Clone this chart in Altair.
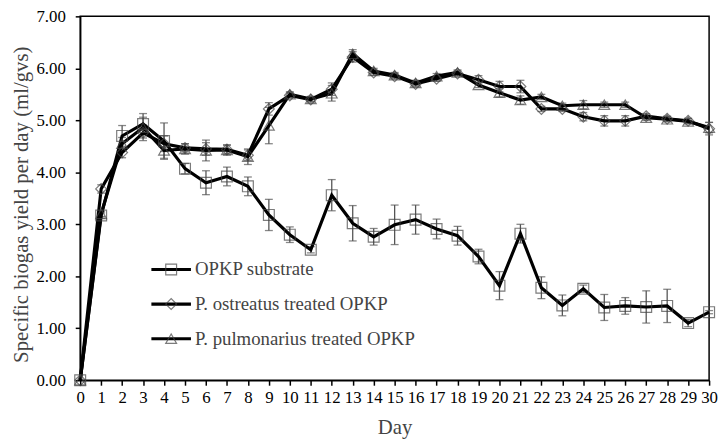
import altair as alt
import pandas as pd

days = list(range(31))
series_names = ["OPKP substrate", "P. ostreatus treated OPKP", "P. pulmonarius treated OPKP"]

opkp = [0.00, 3.17, 4.70, 4.93, 4.60, 4.07, 3.80, 3.92, 3.73, 3.18, 2.80, 2.51, 3.56, 3.02, 2.76, 2.99,
        3.09, 2.91, 2.78, 2.38, 1.82, 2.82, 1.78, 1.44, 1.76, 1.40, 1.43, 1.41, 1.43, 1.10, 1.31]
opkp_err = [0.00, 0.05, 0.20, 0.20, 0.35, 0.10, 0.23, 0.18, 0.18, 0.30, 0.15, 0.06, 0.30, 0.34, 0.16, 0.38,
            0.28, 0.19, 0.18, 0.14, 0.27, 0.18, 0.21, 0.20, 0.07, 0.25, 0.16, 0.31, 0.32, 0.07, 0.03]
ostreatus = [0.00, 3.68, 4.38, 4.76, 4.55, 4.47, 4.45, 4.44, 4.33, 5.22, 5.48, 5.40, 5.60, 6.22, 5.92, 5.85,
             5.70, 5.80, 5.90, 5.78, 5.65, 5.65, 5.22, 5.22, 5.07, 4.99, 4.99, 5.08, 5.03, 4.99, 4.84]
ostreatus_err = [0.00, 0.08, 0.10, 0.15, 0.15, 0.08, 0.12, 0.08, 0.10, 0.12, 0.05, 0.05, 0.12, 0.10, 0.05, 0.05,
                 0.05, 0.05, 0.05, 0.08, 0.10, 0.12, 0.05, 0.05, 0.08, 0.10, 0.10, 0.05, 0.05, 0.05, 0.12]
pulmonarius = [0.00, 3.20, 4.55, 4.86, 4.42, 4.45, 4.42, 4.43, 4.30, 4.90, 5.50, 5.41, 5.52, 6.28, 5.95, 5.87,
               5.72, 5.85, 5.92, 5.68, 5.53, 5.39, 5.45, 5.28, 5.30, 5.30, 5.30, 5.05, 5.02, 4.98, 4.86]
pulmonarius_err = [0.00, 0.05, 0.12, 0.20, 0.15, 0.10, 0.20, 0.10, 0.15, 0.35, 0.05, 0.05, 0.15, 0.08, 0.05, 0.05,
                   0.05, 0.05, 0.05, 0.05, 0.08, 0.08, 0.05, 0.05, 0.08, 0.05, 0.05, 0.05, 0.05, 0.05, 0.10]
y_ticks = [i * 0.5 for i in range(15)]

rows = []
for name, vals, errs in zip(series_names, [opkp, ostreatus, pulmonarius], [opkp_err, ostreatus_err, pulmonarius_err]):
    for d, v, e in zip(days, vals, errs):
        rows.append({"day": d, "value": v, "err": e, "lo": v - e, "hi": v + e, "series": name})
df = pd.DataFrame(rows)
df_err = df[df["err"] > 0]

FONT = "Liberation Serif"
x_enc = alt.X("day:Q", scale=alt.Scale(domain=[0, 30], nice=False, zero=False),
              axis=alt.Axis(values=days, format="d", title="Day", grid=False,
                            labelFont=FONT, labelFontSize=17, labelColor="black", labelPadding=4,
                            labelFlush=False, labelOverlap=False,
                            tickSize=5, tickColor="black", tickWidth=1.5,
                            domainColor="black", domainWidth=1.5,
                            titleFont=FONT, titleFontSize=21, titleFontWeight="normal",
                            titleColor="#444", titlePadding=12))
y_scale = alt.Scale(domain=[0, 7], nice=False)
y_enc = alt.Y("value:Q", scale=y_scale,
              axis=alt.Axis(values=y_ticks, format=".2f", title="Specific biogas yield per day (ml/gvs)",
                            grid=False, labelFont=FONT, labelFontSize=17, labelColor="black",
                            labelPadding=10, tickSize=5, tickColor="black", tickWidth=1.5,
                            domainColor="black", domainWidth=1.5,
                            titleFont=FONT, titleFontSize=21, titleFontWeight="normal",
                            titleColor="#444", titleX=-59, titleY=190, titleBaseline="middle",
                            titleAlign="center", titleAngle=270))

err_rule = alt.Chart(df_err).mark_rule(color="#555", strokeWidth=1.3).encode(
    x=x_enc, y=alt.Y("lo:Q", scale=y_scale), y2="hi:Q")
cap_lo = alt.Chart(df_err).mark_tick(color="#555", orient="horizontal", size=8, thickness=1.3).encode(
    x=x_enc, y=alt.Y("lo:Q", scale=y_scale))
cap_hi = alt.Chart(df_err).mark_tick(color="#555", orient="horizontal", size=8, thickness=1.3).encode(
    x=x_enc, y=alt.Y("hi:Q", scale=y_scale))

lines = alt.Chart(df).mark_line(color="black", strokeWidth=3.2).encode(
    x=x_enc, y=y_enc, detail="series:N")

shape_scale = alt.Scale(domain=series_names, range=["square", "diamond", "triangle-up"])
points = alt.Chart(df).mark_point(filled=False, size=120, strokeWidth=1.2, color="#444").encode(
    x=x_enc, y=y_enc, shape=alt.Shape("series:N", scale=shape_scale, legend=None))

legend_layers = []
shapes = ["square", "diamond", "triangle-up"]
for i, name in enumerate(series_names):
    ypix = 256 + 35 * i
    ld = pd.DataFrame({"label": [name]})
    legend_layers.append(alt.Chart(ld).mark_rule(color="black", strokeWidth=3.2).encode(
        x=alt.value(72), x2=alt.value(112), y=alt.value(ypix)))
    legend_layers.append(alt.Chart(ld).mark_point(filled=False, size=120, strokeWidth=1.2, color="#444",
                                                  shape=shapes[i]).encode(
        x=alt.value(92), y=alt.value(ypix)))
    legend_layers.append(alt.Chart(ld).mark_text(align="left", baseline="middle", font=FONT,
                                                 fontSize=19, color="#444").encode(
        x=alt.value(116), y=alt.value(ypix), text="label:N"))

chart = alt.layer(err_rule, cap_lo, cap_hi, lines, points, *legend_layers).properties(
    width=636, height=368,
    autosize=alt.AutoSizeParams(type="none"),
    padding={"left": 73, "top": 6, "right": 9, "bottom": 61},
).configure_view(stroke="black", strokeWidth=1.5)

chart.save("out.html", embed_options={"renderer": "svg", "actions": False})
